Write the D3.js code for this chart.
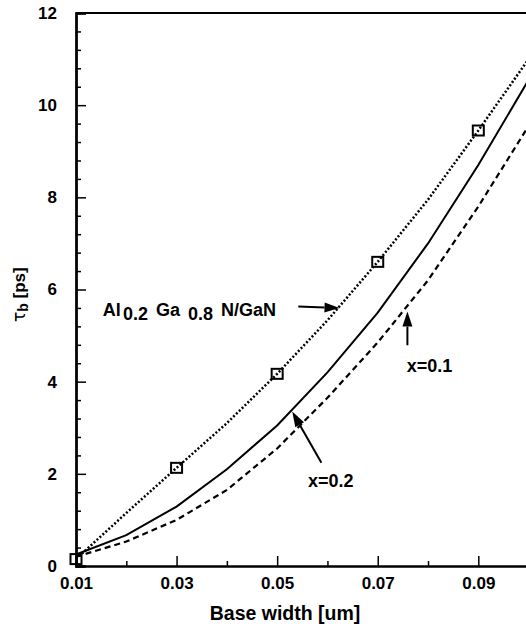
<!DOCTYPE html>
<html>
<head>
<meta charset="utf-8">
<script src="https://cdn.jsdelivr.net/npm/d3@7/dist/d3.min.js"></script>
<style>
  html, body { margin: 0; padding: 0; background: #fff; }
  svg { display: block; }
  text { font-family: "Liberation Sans", Arial, Helvetica, sans-serif; font-weight: bold; fill: #000; }
</style>
</head>
<body>
<svg id="chart" width="526" height="628"></svg>
<script>
// Base width (um) sampled every 0.01
const baseWidth = [0.01, 0.02, 0.03, 0.04, 0.05, 0.06, 0.07, 0.08, 0.09, 0.10];
// Base transit time tau_b (ps)
const tauAlGaN  = [0.15, 1.15, 2.13, 3.10, 4.17, 5.33, 6.60, 7.95, 9.45, 11.00]; // Al0.2Ga0.8N/GaN (dotted)
const tauX02    = [0.25, 0.67, 1.29, 2.10, 3.05, 4.20, 5.50, 7.00, 8.70, 10.55]; // x=0.2 (solid)
const tauX01    = [0.20, 0.53, 1.00, 1.65, 2.55, 3.65, 4.85, 6.20, 7.80, 9.55];  // x=0.1 (dashed)
// Square markers on the AlGaN curve
const markerWidth = [0.01, 0.03, 0.05, 0.07, 0.09];
const markerTau   = [0.15, 2.13, 4.17, 6.60, 9.45];
// Axis ticks
const xMajorTicks = [0.01, 0.03, 0.05, 0.07, 0.09];
const xMinorTicks = [0.02, 0.04, 0.06, 0.08];
const yMajorTicks = [0, 2, 4, 6, 8, 10, 12];
const yMinorTicks = d3.range(0, 12, 0.4).filter(v => Math.abs(v / 2 - Math.round(v / 2)) > 1e-6);

const svg = d3.select("#chart");
const mLeft = 76, mRight = 528.6, mTop = 13, mBottom = 566;

const x = d3.scaleLinear().domain([0.01, 0.10]).range([mLeft, mRight]);
const y = d3.scaleLinear().domain([0, 12]).range([mBottom, mTop]);

// Frame
svg.append("line").attr("x1", mLeft).attr("x2", mRight).attr("y1", mTop).attr("y2", mTop)
  .attr("stroke", "#000").attr("stroke-width", 2);
svg.append("line").attr("x1", mRight).attr("x2", mRight).attr("y1", mTop).attr("y2", mBottom)
  .attr("stroke", "#000").attr("stroke-width", 2);

// Y axis
const yAxis = svg.append("g").attr("transform", `translate(${mLeft},0)`)
  .call(d3.axisLeft(y).tickValues(yMajorTicks).tickSize(-10).tickPadding(19).tickFormat(d3.format("d")));
const yMinor = svg.append("g").attr("transform", `translate(${mLeft},0)`)
  .call(d3.axisLeft(y).tickValues(yMinorTicks).tickSize(-5).tickFormat(""));
// X axis
const xAxis = svg.append("g").attr("transform", `translate(0,${mBottom})`)
  .call(d3.axisBottom(x).tickValues(xMajorTicks).tickSize(-10).tickPadding(11).tickFormat(d3.format(".2f")));
const xMinor = svg.append("g").attr("transform", `translate(0,${mBottom})`)
  .call(d3.axisBottom(x).tickValues(xMinorTicks).tickSize(-5).tickFormat(""));

[yAxis, yMinor, xAxis, xMinor].forEach(g => {
  g.selectAll(".domain").attr("stroke", "#000").attr("stroke-width", 2);
  g.selectAll(".tick line").attr("stroke", "#000").attr("stroke-width", 1.5);
  g.selectAll("text").attr("font-size", 17).attr("font-family", null).attr("fill", "#000");
});
yAxis.select(".domain").attr("stroke-width", 2.5);

// Axis titles
svg.append("text").attr("x", 285).attr("y", 620).attr("text-anchor", "middle")
  .attr("font-size", 19.5).text("Base width [um]");

const yTitle = svg.append("text")
  .attr("transform", "translate(25,322) rotate(-90)")
  .attr("font-size", 17);
yTitle.append("tspan").attr("font-family", "'DejaVu Sans', sans-serif").attr("font-weight", "normal").text("τ");
yTitle.append("tspan").attr("font-size", 14).attr("dy", 3).text("b");
yTitle.append("tspan").attr("dy", -3).text(" [ps]");

// Curves
const line = d3.line().x(d => x(d[0])).y(d => y(d[1]));
const plot = svg.append("g");
plot.append("path").datum(d3.zip(baseWidth, tauAlGaN)).attr("d", line)
  .attr("fill", "none").attr("stroke", "#000").attr("stroke-width", 2.5)
  .attr("stroke-dasharray", "2,2");
plot.append("path").datum(d3.zip(baseWidth, tauX02)).attr("d", line)
  .attr("fill", "none").attr("stroke", "#000").attr("stroke-width", 2);
plot.append("path").datum(d3.zip(baseWidth, tauX01)).attr("d", line)
  .attr("fill", "none").attr("stroke", "#000").attr("stroke-width", 2.2)
  .attr("stroke-dasharray", "6,4");

// Square markers
plot.selectAll("rect.mk").data(d3.zip(markerWidth, markerTau)).join("rect")
  .attr("class", "mk")
  .attr("x", d => x(d[0]) - 5.5).attr("y", d => y(d[1]) - 5)
  .attr("width", 11).attr("height", 10)
  .attr("fill", "none").attr("stroke", "#000").attr("stroke-width", 2);

// Annotation arrows (data coordinates: from tail to tip)
function arrow(x0, y0, x1, y1) {
  const px0 = x(x0), py0 = y(y0), px1 = x(x1), py1 = y(y1);
  const ang = Math.atan2(py1 - py0, px1 - px0);
  const len = 15, half = 5;
  const bx = px1 - len * Math.cos(ang), by = py1 - len * Math.sin(ang);
  svg.append("line").attr("x1", px0).attr("y1", py0).attr("x2", bx).attr("y2", by)
    .attr("stroke", "#000").attr("stroke-width", 2);
  const p = [
    [px1, py1],
    [bx + half * Math.sin(ang), by - half * Math.cos(ang)],
    [bx - half * Math.sin(ang), by + half * Math.cos(ang)]
  ];
  svg.append("path").attr("d", "M" + p.map(q => q.join(",")).join("L") + "Z").attr("fill", "#000");
}
arrow(0.0542, 5.63, 0.0624, 5.60);
arrow(0.0588, 2.24, 0.0530, 3.35);
arrow(0.0759, 4.79, 0.0759, 5.52);

// Annotation labels
const alLabel = svg.append("text").attr("y", 316).attr("font-size", 18);
alLabel.append("tspan").attr("x", 102.7).text("Al");
alLabel.append("tspan").attr("x", 123).attr("dy", 4).text("0.2");
alLabel.append("tspan").attr("x", 156).attr("dy", -4).text("Ga");
alLabel.append("tspan").attr("x", 188).attr("dy", 4).text("0.8");
alLabel.append("tspan").attr("x", 221).attr("dy", -4).text("N/GaN");

svg.append("text").attr("x", 308).attr("y", 487).attr("font-size", 18).text("x=0.2");
svg.append("text").attr("x", 406.7).attr("y", 372).attr("font-size", 18).text("x=0.1");
</script>
</body>
</html>
